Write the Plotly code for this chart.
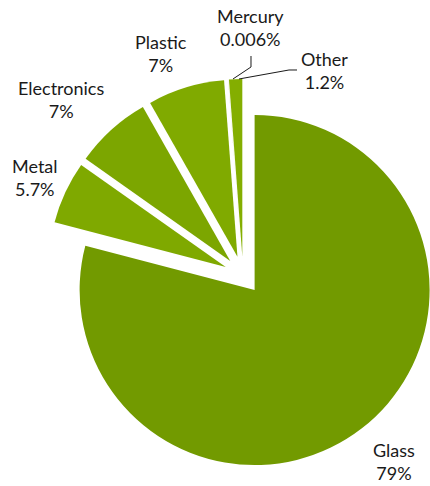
import math
import plotly.graph_objects as go

# ---- data ----
labels = ["Glass", "Metal", "Electronics", "Plastic", "Mercury", "Other"]
values = [79, 5.7, 7, 7, 0.006, 1.2]
pct_text = ["79%", "5.7%", "7%", "7%", "0.006%", "1.2%"]

# ---- style / layout ----
W, H = 430, 486
colors = ["#729a00", "#7fa900", "#7ca600", "#80aa00", "#80aa00", "#84ae00"]
CX, CY = 243.0, 275.0     # centre of the un-exploded pie (px)
EXPLODE = 19.0            # explosion distance (px)
R_SMALL = 177.0
R_GLASS = 175.0
TRANSPARENT = "rgba(0,0,0,0)"

total = sum(values)


def dom(cx, cy, r):
    x0 = max(0.0, (cx - r) / W)
    x1 = min(1.0, (cx + r) / W)
    y0 = max(0.0, 1 - (cy + r) / H)
    y1 = min(1.0, 1 - (cy - r) / H)
    return dict(x=[x0, x1], y=[y0, y1])


fig = go.Figure()
cum = 0.0
for i, (lab, v) in enumerate(zip(labels, values)):
    theta = 2 * math.pi * (cum + v / 2) / total   # clockwise from 12 o'clock
    cum += v
    ux, uy = math.sin(theta), -math.cos(theta)
    r = R_GLASS if i == 0 else R_SMALL
    cx, cy = CX + EXPLODE * ux, CY + EXPLODE * uy
    cols = [colors[j] if j == i else TRANSPARENT for j in range(len(values))]
    fig.add_trace(go.Pie(
        labels=labels, values=values, sort=False, direction="clockwise",
        rotation=0, textinfo="none", hoverinfo="label+percent",
        marker=dict(colors=cols, line=dict(width=0)),
        domain=dom(cx, cy, r), showlegend=False,
    ))

# ---- labels ----
label_pos = {
    "Glass": (394, 461),
    "Metal": (35, 177),
    "Electronics": (61, 99),
    "Plastic": (161, 53),
    "Mercury": (250, 28),
    "Other": (324, 70),
}


def px(x, y):
    return x / W, 1 - y / H


annotations = []
for lab, pt in zip(labels, pct_text):
    x, y = px(*label_pos[lab])
    annotations.append(dict(
        x=x, y=y, xref="paper", yref="paper", showarrow=False,
        text=f"{lab}<br>{pt}", align="center", xanchor="center", yanchor="middle",
        font=dict(family="Lato", size=18, color="#1a1a1a"),
    ))


def path(points):
    s = ""
    for k, (x, y) in enumerate(points):
        fx, fy = px(x, y)
        s += ("M" if k == 0 else " L") + f" {fx:.5f},{fy:.5f}"
    return s


shapes = [
    dict(type="path", xref="paper", yref="paper",
         path=path([(251, 56), (251, 67), (233, 79)]),
         line=dict(color="#1a1a1a", width=1)),
    dict(type="path", xref="paper", yref="paper",
         path=path([(297, 70), (289, 70), (239, 79)]),
         line=dict(color="#1a1a1a", width=1)),
]

fig.update_layout(
    width=W, height=H, margin=dict(l=0, r=0, t=0, b=0),
    paper_bgcolor="white", plot_bgcolor="white",
    annotations=annotations, shapes=shapes,
)

fig.write_html("out.html")
